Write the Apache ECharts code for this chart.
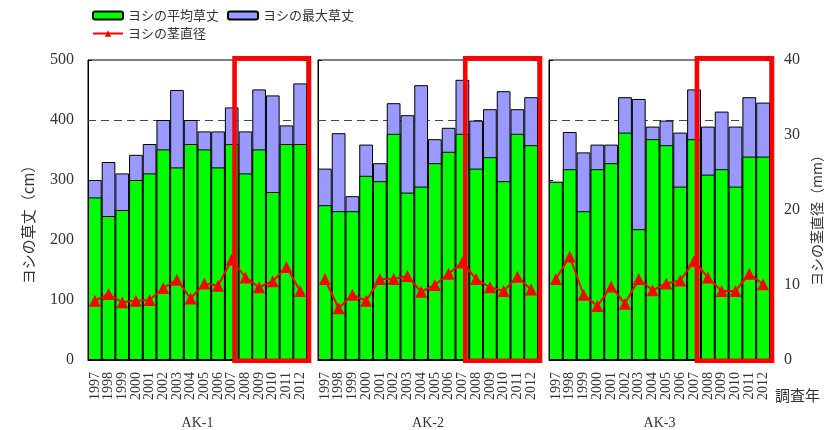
<!DOCTYPE html>
<html><head><meta charset="utf-8">
<script src="https://cdn.jsdelivr.net/npm/echarts@6/dist/echarts.min.js"></script>
<style>html,body{margin:0;padding:0;background:#fff}#c{width:832px;height:430px}</style>
</head><body><div id="c"></div>
<script>
var years = ['1997','1998','1999','2000','2001','2002','2003','2004','2005','2006','2007','2008','2009','2010','2011','2012'];
var panelNames = ['AK-1','AK-2','AK-3'];
var ak1Avg = [271,240,250,300,311,351,321,360,351,321,360,311,351,280,360,360];
var ak1Max = [300,330,311,342,360,400,450,400,381,381,421,381,451,441,391,461];
var ak1Dia = [7.9,8.8,7.7,7.9,8.0,9.6,10.7,8.2,10.2,9.9,13.4,11.0,9.7,10.5,12.4,9.2];
var ak2Avg = [258,248,248,307,298,377,279,289,328,347,377,319,338,298,377,358];
var ak2Max = [319,378,273,359,328,428,408,458,368,387,467,399,418,448,418,438];
var ak2Dia = [10.8,6.9,8.7,7.9,10.8,10.8,11.2,9.1,10.0,11.5,13.0,10.8,9.7,9.2,11.1,9.4];
var ak3Avg = [297,318,248,318,328,379,218,368,358,289,368,309,318,289,339,339];
var ak3Max = [297,380,346,359,359,438,435,389,399,379,451,389,414,389,438,429];
var ak3Dia = [10.8,13.8,8.7,7.2,9.8,7.5,10.8,9.3,10.2,10.6,13.2,11.0,9.2,9.2,11.5,10.1];
var refLine = 400;
var highlightFrom = '2008', highlightTo = '2012';

var avgs = [ak1Avg, ak2Avg, ak3Avg], maxs = [ak1Max, ak2Max, ak3Max], dias = [ak1Dia, ak2Dia, ak3Dia];
var nameAvg = 'ヨシの平均草丈', nameMax = 'ヨシの最大草丈', nameDia = 'ヨシの茎直径';
var serif = '"Liberation Serif","DejaVu Serif",serif';
var jp = '"Noto Sans CJK JP","Noto Sans",sans-serif';

var grids = [
  {left: 88, top: 60, width: 219, height: 300},
  {left: 318, top: 60, width: 220, height: 300},
  {left: 549, top: 60, width: 221, height: 300}
];
var xAxes = [], yAxes = [], series = [];
grids.forEach(function (g, i) {
  g.show = true; g.borderColor = '#000'; g.borderWidth = 1; g.backgroundColor = 'transparent';
  g.containLabel = false; g.outerBoundsMode = 'none';
  xAxes.push({
    type: 'category', gridIndex: i, data: years,
    axisLine: {lineStyle: {color: '#000'}}, axisTick: {show: false},
    axisLabel: {rotate: 90, margin: 12, fontSize: 14, fontFamily: serif, color: '#333', interval: 0},
    name: panelNames[i], nameLocation: 'middle', nameGap: 56,
    nameTextStyle: {fontSize: 14, fontFamily: serif, color: '#333'}
  });
  yAxes.push({
    type: 'value', gridIndex: i, min: 0, max: 500, interval: 100, position: 'left',
    axisLine: {show: true, lineStyle: {color: '#000'}},
    axisTick: {show: true, inside: true, length: 4, lineStyle: {color: '#000'}},
    axisLabel: {show: i === 0, margin: 14, fontSize: 16, fontFamily: serif, color: '#333'},
    splitLine: {show: false}
  });
  yAxes.push({
    type: 'value', gridIndex: i, min: 0, max: 40, interval: 10, position: 'right',
    axisLine: {show: true, lineStyle: {color: '#000'}},
    axisTick: {show: true, inside: true, length: 4, lineStyle: {color: '#000'}},
    axisLabel: {show: i === 2, margin: 14, fontSize: 16, fontFamily: serif, color: '#333'},
    splitLine: {show: false}
  });
  series.push({
    type: 'bar', name: nameMax, xAxisIndex: i, yAxisIndex: i * 2, data: maxs[i],
    barGap: '-100%', barCategoryGap: '0%',
    itemStyle: {color: '#9999ff', borderColor: '#000', borderWidth: 1},
    markLine: {
      z: 1, silent: true, symbol: 'none', label: {show: false},
      lineStyle: {type: [8, 5], color: '#444', width: 1},
      data: [{yAxis: refLine}]
    }
  });
  series.push({
    type: 'bar', name: nameAvg, xAxisIndex: i, yAxisIndex: i * 2, data: avgs[i],
    barGap: '-100%', barCategoryGap: '0%',
    itemStyle: {color: '#00ff00', borderColor: '#000', borderWidth: 1}
  });
  series.push({
    type: 'line', name: nameDia, xAxisIndex: i, yAxisIndex: i * 2 + 1, data: dias[i],
    symbol: 'triangle', symbolSize: 12, z: 5,
    lineStyle: {color: '#ff0000', width: 2}, itemStyle: {color: '#ff0000'}
  });
});

var chart = echarts.init(document.getElementById('c'), null, {renderer: 'canvas'});
chart.setOption({
  animation: false,
  grid: grids, xAxis: xAxes, yAxis: yAxes, series: series,
  legend: [
    {left: 92, top: 9, padding: 0, itemWidth: 30, itemHeight: 8, itemGap: 8, data: [nameAvg, nameMax],
     textStyle: {fontSize: 13, fontFamily: jp, color: '#333'}},
    {left: 92, top: 27, padding: 0, itemWidth: 30, itemHeight: 8, data: [nameDia],
     textStyle: {fontSize: 13, fontFamily: jp, color: '#333'}}
  ]
});

var gfx = [
  {type: 'text', x: 28, y: 221, rotation: Math.PI / 2,
   style: {text: 'ヨシの草丈（cm）', font: '15px ' + jp, fill: '#333', textAlign: 'center', textVerticalAlign: 'middle'}},
  {type: 'text', x: 817, y: 217, rotation: Math.PI / 2,
   style: {text: 'ヨシの茎直径（mm）', font: '14px ' + jp, fill: '#333', textAlign: 'center', textVerticalAlign: 'middle'}},
  {type: 'text', x: 775, y: 395,
   style: {text: '調査年', font: '15px ' + jp, fill: '#333', textAlign: 'left', textVerticalAlign: 'middle'}}
];
grids.forEach(function (g, i) {
  var a = chart.convertToPixel({xAxisIndex: i}, highlightFrom);
  var b = chart.convertToPixel({xAxisIndex: i}, highlightTo);
  var band = (b - a) / (years.indexOf(highlightTo) - years.indexOf(highlightFrom));
  var top = chart.convertToPixel({yAxisIndex: i * 2}, 500);
  var bot = chart.convertToPixel({yAxisIndex: i * 2}, 0);
  var x0 = a - band / 2 - 4, x1 = b + band / 2 + 2;
  gfx.push({type: 'rect', z: 100, silent: true,
    shape: {x: x0, y: top - 1.6, width: x1 - x0, height: bot - top + 2.4},
    style: {fill: 'none', stroke: '#ff0000', lineWidth: 4.6}});
});
chart.setOption({graphic: gfx});
</script></body></html>
